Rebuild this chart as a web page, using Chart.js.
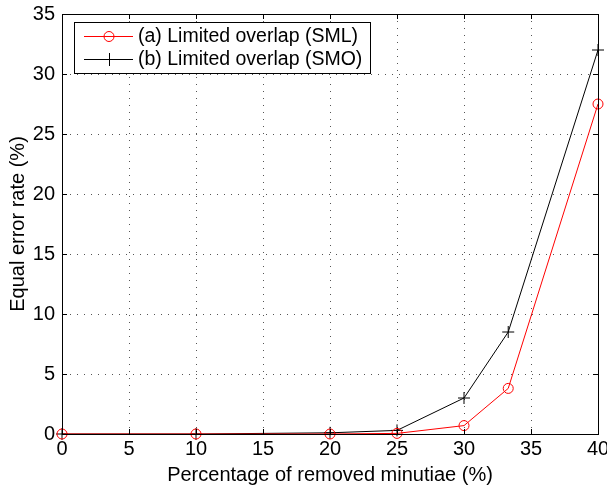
<!DOCTYPE html>
<html>
<head>
<meta charset="utf-8">
<script src="https://cdn.jsdelivr.net/npm/chart.js@4"></script>
<style>
  html, body { margin: 0; padding: 0; background: #fff; }
  #wrap { width: 607px; height: 487px; }
</style>
</head>
<body>
<div id="wrap"><canvas id="myChart" width="607" height="487"></canvas></div>
<script>
var xValues = [0, 10, 20, 25, 30, 33.3, 40];
var smlValues = [0, 0, 0, 0.05, 0.7, 3.8, 27.5];
var smoValues = [0, 0, 0.1, 0.3, 3.0, 8.5, 32];
var seriesNames = ['(a) Limited overlap (SML)', '(b) Limited overlap (SMO)'];

var FONT = 'Liberation Sans, Arial, Helvetica, sans-serif';

function pts(ys) {
  return xValues.map(function (x, i) { return { x: x, y: ys[i] }; });
}

// box, inner ticks and legend drawn like a MATLAB figure
var boxPlugin = {
  id: 'box',
  afterDraw: function (chart) {
    var ctx = chart.ctx, a = chart.chartArea;
    var xs = chart.scales.x, ys = chart.scales.y;
    ctx.save();
    ctx.strokeStyle = '#000';
    ctx.lineWidth = 1;
    ctx.strokeRect(Math.round(a.left) + 0.5, Math.round(a.top) + 0.5,
      Math.round(a.right - a.left), Math.round(a.bottom - a.top));
    ctx.beginPath();
    xs.ticks.forEach(function (t) {
      var px = Math.round(xs.getPixelForValue(t.value)) + 0.5;
      ctx.moveTo(px, a.bottom); ctx.lineTo(px, a.bottom - 5);
      ctx.moveTo(px, a.top); ctx.lineTo(px, a.top + 5);
    });
    ys.ticks.forEach(function (t) {
      var py = Math.round(ys.getPixelForValue(t.value)) + 0.5;
      ctx.moveTo(a.left, py); ctx.lineTo(a.left + 5, py);
      ctx.moveTo(a.right, py); ctx.lineTo(a.right - 5, py);
    });
    ctx.stroke();

    // legend
    var lx = a.left + 12, ly = a.top + 8, lw = 296, lh = 51;
    ctx.fillStyle = '#fff';
    ctx.fillRect(lx, ly, lw, lh);
    ctx.strokeRect(lx + 0.5, ly + 0.5, lw, lh);
    ctx.font = '19.5px ' + FONT;
    ctx.textBaseline = 'middle';
    var rows = [ly + 14, ly + 37];
    var cols = ['#ff0000', '#000000'];
    rows.forEach(function (ry, i) {
      ctx.strokeStyle = cols[i];
      ctx.beginPath();
      ctx.moveTo(lx + 10, ry + 0.5); ctx.lineTo(lx + 59, ry + 0.5);
      ctx.stroke();
      ctx.beginPath();
      if (i === 0) {
        ctx.arc(lx + 35, ry + 0.5, 5, 0, Math.PI * 2);
      } else {
        ctx.moveTo(lx + 29, ry + 0.5); ctx.lineTo(lx + 41, ry + 0.5);
        ctx.moveTo(lx + 35.5, ry - 6); ctx.lineTo(lx + 35.5, ry + 7);
      }
      ctx.stroke();
      ctx.fillStyle = '#000';
      ctx.fillText(seriesNames[i], lx + 64, ry + 1);
    });
    ctx.restore();
  }
};

new Chart('myChart', {
  type: 'line',
  data: {
    datasets: [{
      label: seriesNames[0],
      data: pts(smlValues),
      borderColor: '#ff0000',
      backgroundColor: 'rgba(0,0,0,0)',
      borderWidth: 1,
      pointStyle: 'circle',
      pointRadius: 5,
      pointBorderWidth: 1,
      pointBorderColor: '#ff0000',
      pointBackgroundColor: 'rgba(0,0,0,0)',
      fill: false,
      clip: false,
      tension: 0
    }, {
      label: seriesNames[1],
      data: pts(smoValues),
      borderColor: '#000000',
      backgroundColor: 'rgba(0,0,0,0)',
      borderWidth: 1,
      pointStyle: 'cross',
      pointRadius: 6,
      pointBorderWidth: 1,
      pointBorderColor: '#000000',
      fill: false,
      clip: false,
      tension: 0
    }]
  },
  options: {
    responsive: false,
    animation: false,
    layout: { padding: { left: 0, right: 9, top: 14, bottom: 0 } },
    plugins: {
      legend: { display: false },
      tooltip: { enabled: false }
    },
    scales: {
      x: {
        type: 'linear',
        min: 0, max: 40,
        ticks: { stepSize: 5, color: '#000', font: { family: FONT, size: 20 }, padding: 3, maxRotation: 0 },
        grid: { color: '#555', lineWidth: 1, drawTicks: false },
        border: { display: true, color: '#000', dash: [1, 6] },
        title: { display: true, text: 'Percentage of removed minutiae (%)', color: '#000', font: { family: FONT, size: 20 }, padding: { top: 0, bottom: 0 } },
        afterFit: function (s) { s.height = 53; s.paddingLeft = 0; s.paddingRight = 0; }
      },
      y: {
        min: 0, max: 35,
        ticks: { stepSize: 5, color: '#000', font: { family: FONT, size: 20 }, padding: 7 },
        grid: { color: '#555', lineWidth: 1, drawTicks: false },
        border: { display: true, color: '#000', dash: [1, 6] },
        title: { display: true, text: 'Equal error rate (%)', color: '#000', font: { family: FONT, size: 20 }, padding: { top: 6, bottom: 0 } },
        afterFit: function (s) { s.width = 62; s.paddingTop = 0; s.paddingBottom = 0; }
      }
    }
  },
  plugins: [boxPlugin]
});
</script>
</body>
</html>
